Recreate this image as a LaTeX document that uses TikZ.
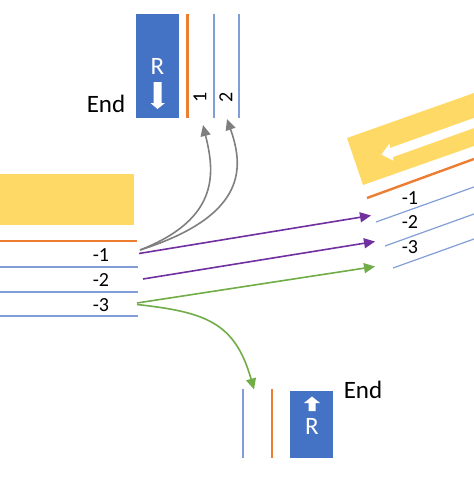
\documentclass[tikz,border=0pt]{standalone}
\usepackage{fontspec}
\setmainfont{Carlito}
\usetikzlibrary{arrows.meta}
\definecolor{gold}{RGB}{255,217,102}
\definecolor{bluebox}{RGB}{68,114,196}
\definecolor{laneblue}{RGB}{130,158,214}
\definecolor{laneorange}{RGB}{237,125,49}
\definecolor{purp}{RGB}{112,48,160}
\definecolor{grn}{RGB}{112,173,71}
\definecolor{gry}{RGB}{127,127,127}
\tikzset{
 x=1pt,y=-1pt,
 lane/.style={draw=laneblue,line width=1.2pt},
 edgeo/.style={draw=laneorange,line width=2.4pt},
 conn/.style={-{Triangle[length=11pt,width=10pt]},line width=1.6pt},
 whitearrow/.style={fill=white,draw=none},
 lab/.style={font=\fontsize{20}{20}\selectfont,inner sep=0pt},
 endlab/.style={font=\fontsize{25}{25}\selectfont,inner sep=0pt},
 rlab/.style={font=\fontsize{25}{25}\selectfont,text=white,inner sep=0pt},
}
\begin{document}
\begin{tikzpicture}
\useasboundingbox (0,0) rectangle (474,477);
% left
\fill[gold] (0,174) rectangle (134,225);
\draw[edgeo] (0,241) -- (137,241);
\draw[lane] (0,267) -- (138,267);
\draw[lane] (0,292) -- (138,292);
\draw[lane] (0,316) -- (138,316);
\node[lab] (l1) at (101,255) {-1};
\node[lab] (l2) at (101,280) {-2};
\node[lab] (l3) at (101,305) {-3};
% top
\fill[bluebox] (136,14) rectangle (179,118);
\draw[edgeo] (187.5,14) -- (187.5,118);
\draw[lane] (214,14) -- (214,118);
\draw[lane] (239,14) -- (239,118);
\node[rlab] (rt) at (157.5,66) {R};
\fill[whitearrow] (153.5,82) -- (161.5,82) -- (161.5,103) -- (165,103) -- (157.5,109) -- (150.5,103) -- (153.5,103) -- cycle;
\node[lab,rotate=90] (t1) at (200,97) {1};
\node[lab,rotate=90] (t2) at (226,97) {2};
\node[endlab] (e1) at (106,104) {End};
% right
\fill[gold] (347,138) -- (474,93) -- (474,146) -- (363,185) -- cycle;
\draw[edgeo] (367,198) -- (474,159);
\draw[lane] (376,222) -- (474,187);
\draw[lane] (385,246) -- (474,214);
\draw[lane] (393,268) -- (474,239);
\fill[whitearrow] (474,118) -- (474,128) -- (393,157) -- (393,160.5) -- (381.5,154.5) -- (389.5,143.5) -- (390,148) -- cycle;
\node[lab] (r1) at (410,198) {-1};
\node[lab] (r2) at (410,222) {-2};
\node[lab] (r3) at (410,247) {-3};
% bottom
\draw[lane] (243,389) -- (243,458);
\draw[edgeo] (272,389) -- (272,458);
\fill[bluebox] (290,391) rectangle (333,458);
\fill[whitearrow] (308.5,411) -- (315.5,411) -- (315.5,403) -- (320,403) -- (312,396.5) -- (304,403) -- (308.5,403) -- cycle;
\node[rlab] (rb) at (312,426) {R};
\node[endlab] (e2) at (363,390) {End};
% connectors
\coordinate (a1) at (139,253.5);
\coordinate (a1g) at (140,250);
\coordinate (a2) at (143,279);
\coordinate (a3) at (137,303);
\coordinate (a3b) at (137,304.5);
\coordinate (b1) at (371,215.5);
\coordinate (b2) at (375,241.5);
\coordinate (b3) at (375,266.5);
\coordinate (c1) at (203,125);
\coordinate (c2) at (227,119);
\coordinate (d) at (254,389.5);
\draw[conn,purp] (a1) -- (b1);
\draw[conn,purp] (a2) -- (b2);
\draw[conn,grn] (a3) -- (b3);
\draw[conn,gry] (a1g) .. controls (222,218) and (214,170) .. (c1);
\draw[conn,gry] (a1g) .. controls (250,215) and (243,165) .. (c2);
\draw[conn,grn] (a3b) .. controls (205,312) and (235,322) .. (d);
\end{tikzpicture}
\end{document}
